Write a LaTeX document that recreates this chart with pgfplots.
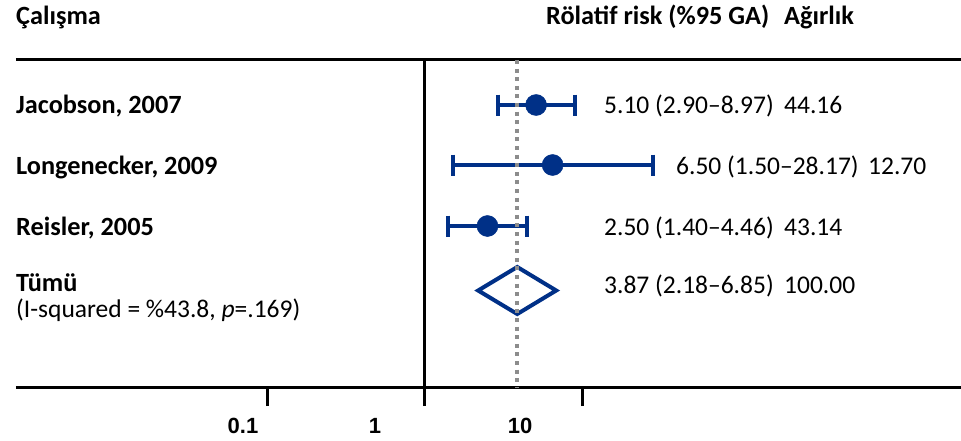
\documentclass[border=0pt]{standalone}
\usepackage{fontspec}
\setmainfont{Carlito}
\newfontfamily\arialfont{Liberation Sans}
\usepackage{pgfplots}
\pgfplotsset{compat=1.18}
\definecolor{cblue}{RGB}{0,48,135}
\definecolor{cgray}{RGB}{140,140,140}
\begin{document}
\begin{tikzpicture}
\path[use as bounding box] (0,0) rectangle (961bp,-441bp);
\begin{axis}[
  at={(16bp,-387bp)}, anchor=south west,
  scale only axis, width=945bp, height=327bp,
  xmode=log, xmin=0.002483, xmax=2594,
  ymin=-387, ymax=-60,
  axis x line=box, axis y line=none,
  axis line style={line width=3bp, black},
  xtick={0.1,1,10}, xticklabels={}, minor xtick={}, xminorticks=false,
  minor tick length=0pt,
  xtick pos=lower, tick align=outside,
  major tick length=19bp,
  every major tick/.style={black, line width=3bp},
  ytick=\empty,
  clip=false,
]
% null line
\addplot[black, line width=3bp, mark=none] coordinates {(1,-60) (1,-387)};
% confidence intervals
\addplot[cblue, line width=4bp, mark=|, mark size=10.5bp, mark options={solid, line width=4bp}] coordinates {(2.90,-105) (8.97,-105)};
\addplot[cblue, line width=4bp, mark=|, mark size=10.5bp, mark options={solid, line width=4bp}] coordinates {(1.50,-165) (28.17,-165)};
\addplot[cblue, line width=4bp, mark=|, mark size=10.5bp, mark options={solid, line width=4bp}] coordinates {(1.40,-226) (4.46,-226)};
% pooled diamond
\addplot[cblue, line width=4bp, line join=miter, fill=white, mark=none] coordinates {(2.18,-290.5) (3.87,-267) (6.85,-290.5) (3.87,-314)} -- cycle;
% pooled estimate line
\addplot[cgray, line width=4bp, dash pattern=on 4bp off 4.6bp, mark=none] coordinates {(3.87,-60) (3.87,-387)};
% point estimates
\addplot[only marks, mark=*, mark size=10.5bp, mark options={fill=cblue, draw=cblue, line width=0.5bp}] coordinates {(5.10,-105) (6.50,-165) (2.50,-226)};
\end{axis}
\tikzset{t/.style={anchor=base west, inner sep=0pt, font=\fontsize{25.5bp}{30bp}\selectfont},
         b/.style={anchor=base west, inner sep=0pt, font=\fontsize{26.3bp}{30bp}\selectfont\bfseries}}
\node[b] at (16bp,-24.5bp) {Çalışma};
\node[b] at (546bp,-24.5bp) {Rölatif risk (\%95 GA)};
\node[b] at (784bp,-24.5bp) {Ağırlık};
\node[b] at (16bp,-113bp) {Jacobson, 2007};
\node[b] at (16bp,-174bp) {Longenecker, 2009};
\node[b] at (16bp,-235bp) {Reisler, 2005};
\node[b] at (16bp,-291bp) {Tümü};
\node[t] at (16bp,-317bp) {(I-squared = \%43.8, \textit{p}=.169)};
\node[t] at (604bp,-113bp) {5.10 (2.90–8.97)};
\node[t] at (784bp,-113bp) {44.16};
\node[t] at (676bp,-174bp) {6.50 (1.50–28.17)};
\node[t] at (868bp,-174bp) {12.70};
\node[t] at (604bp,-235bp) {2.50 (1.40–4.46)};
\node[t] at (784bp,-235bp) {43.14};
\node[t] at (604bp,-293bp) {3.87 (2.18–6.85)};
\node[t] at (784bp,-293bp) {100.00};
\tikzset{tl/.style={anchor=base, inner sep=0pt, font=\arialfont\bfseries\fontsize{22bp}{26bp}\selectfont}}
\node[tl] at (243bp,-433bp) {0.1};
\node[tl] at (375bp,-433bp) {1};
\node[tl] at (520bp,-433bp) {10};
\end{tikzpicture}
\end{document}
